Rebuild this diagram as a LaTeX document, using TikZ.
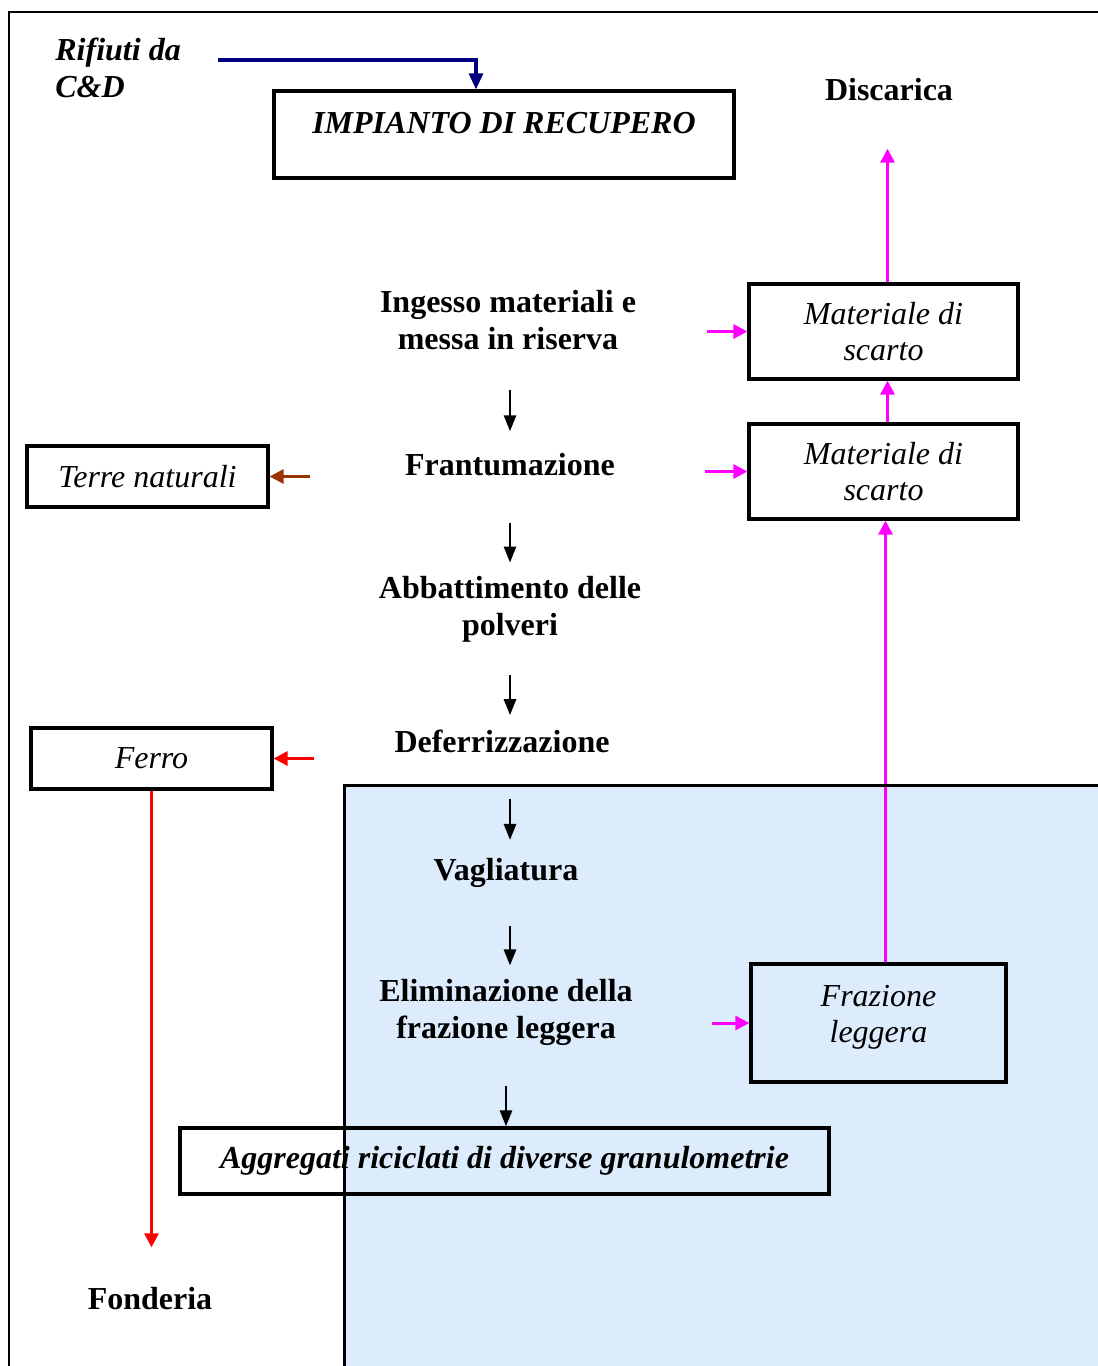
\documentclass[tikz,border=0pt]{standalone}
\usepackage{fontspec}
\setmainfont{Liberation Serif}
\usetikzlibrary{arrows.meta, calc}
\definecolor{navyline}{RGB}{0,0,128}
\definecolor{mgline}{RGB}{255,0,255}
\definecolor{redline}{RGB}{255,0,0}
\definecolor{brownline}{RGB}{153,51,0}
\definecolor{lightblue}{RGB}{221,236,252}

\begin{document}
\begin{tikzpicture}[x=0.5pt, y=-0.5pt,
  procbox/.style={draw, line width=1.6pt, inner sep=0pt, align=center,
    minimum width=120.5pt, minimum height=30.5pt,
    font=\fontsize{16}{18}\selectfont\itshape},
  stepnode/.style={inner sep=0pt, align=center,
    font=\fontsize{16}{18.5}\selectfont\bfseries},
  lbl/.style={inner sep=0pt, align=center,
    font=\fontsize{16}{18.5}\selectfont\bfseries\itshape},
  arw/.style={-{Triangle[length=8pt,width=6pt]}, line width=1.3pt},
  mgarw/.style={-{Triangle[length=7pt,width=7pt]}, line width=1.5pt, mgline},
  redarw/.style={-{Triangle[length=7pt,width=7pt]}, line width=1.5pt, redline},
  brarw/.style={-{Triangle[length=7pt,width=7pt]}, line width=1.5pt, brownline},
  navarw/.style={-{Triangle[length=8pt,width=7pt]}, line width=1.6pt, navyline},
]
\useasboundingbox (0,0) rectangle (1098,1366);
\clip (0,0) rectangle (1098,1366);

% ---- frame and shaded area ----
\draw[line width=1pt] (9,1400) |- (1120,12);
\fill[lightblue] (344,785) rectangle (1120,1400);

% ---- input ----
\node[lbl, anchor=west, align=left] (rifiuti) at (55,68) {Rifiuti da\\C\&D};
\node[procbox, minimum width=230pt, minimum height=43.5pt] (impianto) at (504,134.5) {};
\node[lbl] (impiantolbl) at (504,123) {IMPIANTO DI RECUPERO};
\coordinate (cdout) at (218,60);
\draw[navarw] (cdout) -| ([xshift=-14pt]impianto.north);

% ---- process steps (centre) ----
\node[stepnode] (ingresso) at (508,320) {Ingesso materiali e\\messa in riserva};
\node[stepnode] (frant) at (510,465) {Frantumazione};
\node[stepnode] (abbatt) at (510,609) {Abbattimento delle\\polveri};
\node[stepnode] (deferr) at (502,741) {Deferrizzazione};
\node[stepnode] (vaglio) at (506,873) {Vagliatura};
\node[stepnode] (elimin) at (506,1012) {Eliminazione della\\frazione leggera};
\node[procbox, font=\fontsize{16}{18.5}\selectfont\bfseries\itshape,
  minimum width=324.5pt, minimum height=33pt] (aggregati) at (504.5,1161)
  {Aggregati riciclati di diverse granulometrie};

\draw[arw, shorten <=20pt, shorten >=11pt] (ingresso.south -| frant) -- (frant);
\draw[arw, shorten <=23pt, shorten >=6.5pt] (frant) -- (abbatt);
\draw[arw, shorten <=16.5pt, shorten >=7pt] (abbatt) -- (abbatt.south |- deferr.north);
\draw[arw, shorten <=23pt, shorten >=9pt] (abbatt.south |- deferr.south) -- (abbatt.south |- vaglio.north);
\draw[arw, shorten <=19pt, shorten >=6.5pt] (abbatt.south |- vaglio.south) -- (abbatt.south |- elimin.north);
\draw[arw, shorten <=20pt] (elimin.south) -- (elimin.south |- aggregati.north);

% ---- waste side (right) ----
\node[stepnode] (discarica) at (889,90) {Discarica};
\node[procbox, minimum width=134.5pt, minimum height=47.5pt] (scarto1) at (883.5,331.5) {Materiale di\\scarto};
\node[procbox, minimum width=134.5pt, minimum height=47.5pt] (scarto2) at (883.5,471.5) {Materiale di\\scarto};
\node[procbox, minimum width=127.5pt, minimum height=59pt] (frazione) at (878.5,1023)
  {Frazione\\leggera\rule[-9pt]{0pt}{0pt}};

\draw[mgarw, shorten >=23.5pt] ([xshift=2pt]scarto1.north) -- ([xshift=2pt]scarto1.north |- discarica.south);
\draw[mgarw] ([xshift=2pt]scarto2.north) -- ([xshift=2pt]scarto1.south);
\draw[mgarw] ([xshift=1pt]scarto2.south |- frazione.north) -- ([xshift=1pt]scarto2.south);
\draw[mgarw, shorten <=35.5pt] (ingresso.east |- scarto1.west) -- (scarto1.west);
\draw[mgarw, shorten <=45pt] (frant.east |- scarto2.west) -- (scarto2.west);
\draw[mgarw, shorten <=39.5pt] (elimin.east |- frazione.west) -- (frazione.west);

% ---- recovered side (left) ----
\node[procbox] (terre) at (147.5,476.5) {Terre naturali};
\node[procbox] (ferro) at (151.5,758.5) {Ferro};
\node[stepnode] (fonderia) at (150,1299) {Fonderia};

\draw[brarw, shorten <=47.5pt] (frant.west |- terre.east) -- (terre.east);
\draw[redarw, shorten <=40pt] (deferr.west |- ferro.east) -- (ferro.east);
\draw[redarw, shorten >=20pt] (ferro.south) -- (ferro.south |- fonderia.north);

% ---- shaded area border on top ----
\draw[line width=1.5pt] (344,1400) |- (1120,785);
\end{tikzpicture}
\end{document}
